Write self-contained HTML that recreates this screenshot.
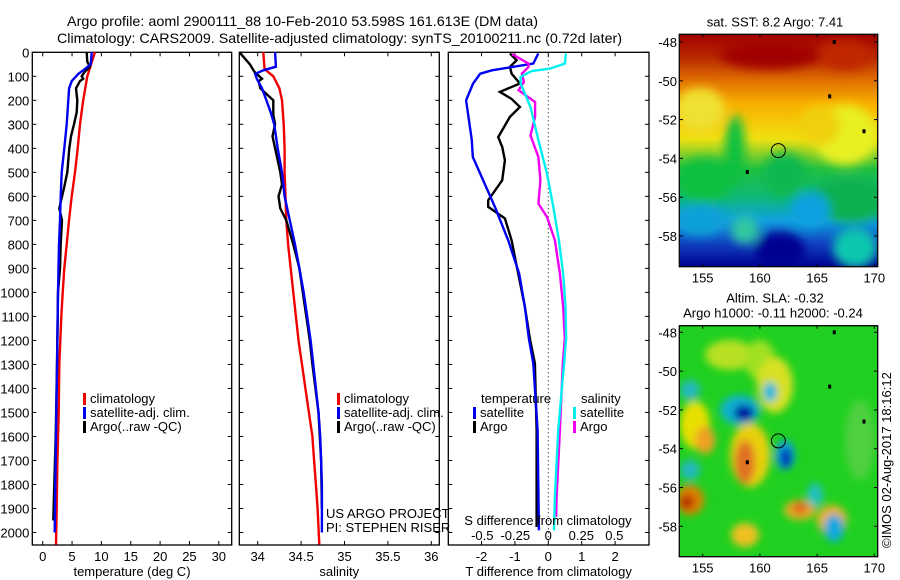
<!DOCTYPE html>
<html><head><meta charset="utf-8"><style>
html,body{margin:0;padding:0;background:#fff;}
svg{display:block;font-family:"Liberation Sans",sans-serif;}
</style></head><body>
<svg id="chart" width="900" height="580" viewBox="0 0 900 580" xmlns="http://www.w3.org/2000/svg">
<defs>
<filter id="blur1" x="-20%" y="-20%" width="140%" height="140%"><feGaussianBlur stdDeviation="5"/></filter>
<filter id="blur2" x="-20%" y="-20%" width="140%" height="140%"><feGaussianBlur stdDeviation="4"/></filter>
<linearGradient id="sstgrad" x1="0" y1="0" x2="0" y2="1">
<stop offset="0" stop-color="#a00000"/><stop offset="0.1" stop-color="#b82800"/><stop offset="0.2" stop-color="#e07000"/>
<stop offset="0.3" stop-color="#f8b000"/><stop offset="0.45" stop-color="#f0e010"/><stop offset="0.58" stop-color="#20c040"/>
<stop offset="0.7" stop-color="#10b878"/><stop offset="0.8" stop-color="#10a0e0"/><stop offset="0.9" stop-color="#1040c0"/><stop offset="1" stop-color="#000090"/>
</linearGradient>
<clipPath id="clipm1"><rect x="680" y="35" width="197" height="231"/></clipPath>
<clipPath id="clipm2"><rect x="680" y="326" width="197" height="230"/></clipPath>
</defs>
<text x="67" y="26" font-size="14" textLength="471" lengthAdjust="spacingAndGlyphs">Argo profile: aoml 2900111_88 10-Feb-2010 53.598S 161.613E (DM data)</text>
<text x="57" y="43" font-size="14" textLength="565" lengthAdjust="spacingAndGlyphs">Climatology: CARS2009. Satellite-adjusted climatology: synTS_20100211.nc (0.72d later)</text>
<g id="panels"></g>
<g id="maps"></g>
</svg>
<script>
// depth axis
const depthTicks = [0,100,200,300,400,500,600,700,800,900,1000,1100,1200,1300,1400,1500,1600,1700,1800,1900,2000];
// panel 1: temperature
const tempTicks = [0,5,10,15,20,25,30];
const climTempDepth = [0,100,200,300,400,500,600,700,800,900,1000,1100,1200,1300,1500,1700,1900,2050];
const climTemp = [8.9,7.6,6.9,6.35,5.96,5.5,4.94,4.48,4.09,3.68,3.4,3.17,3.0,2.83,2.73,2.5,2.38,2.27];
const satTempDepth = [0,50,75,90,120,150,200,300,400,500,600,700,800,1000,1200,1400,1600,1800,2000];
const satTemp = [8.35,8.2,6.9,6.07,4.94,4.5,4.36,4.09,3.68,3.23,3.07,2.95,2.78,2.6,2.5,2.38,2.27,2.15,2.04];
const argoTempDepth = [0,40,60,80,100,110,120,150,200,250,300,350,400,500,560,650,700,800,900,1000,1300,1600,1800,1950];
const argoTemp = [7.5,7.6,8.05,7.2,6.64,6.9,6.35,5.67,5.9,5.79,5.33,4.82,4.53,4.19,3.68,2.83,3.29,3.07,2.95,2.6,2.44,2.21,1.98,1.81];
// panel 2: salinity
const salTicks = [34,34.5,35,35.5,36];
const climSalDepth = [0,70,100,150,200,300,400,500,600,700,800,900,1000,1100,1200,1300,1400,1500,1600,1700,1800,1900,2050];
const climSal = [34.065,34.08,34.18,34.25,34.28,34.30,34.31,34.31,34.32,34.33,34.35,34.38,34.41,34.44,34.47,34.51,34.55,34.59,34.63,34.65,34.67,34.69,34.71];
const satSalDepth = [0,60,75,90,110,150,200,250,300,400,500,600,700,800,900,1000,1100,1200,1300,1400,1500,1600,1700,1800,2000];
const satSal = [34.2,34.21,34.065,33.97,33.99,34.05,34.10,34.15,34.19,34.23,34.28,34.31,34.37,34.43,34.48,34.53,34.57,34.61,34.64,34.67,34.70,34.72,34.73,34.74,34.74];
const argoSalDepth = [0,50,80,110,120,150,180,200,260,300,350,400,500,550,600,650,700,800,900,1000,1100,1200,1300,1500,1700,1900];
const argoSal = [33.79,33.91,33.96,34.05,34.01,34.03,34.12,34.18,34.18,34.2,34.17,34.2,34.26,34.28,34.24,34.26,34.33,34.41,34.48,34.52,34.56,34.60,34.63,34.70,34.73,34.74];
// panel 3: differences
const tDiffTicks = [-2,-1,0,1,2];
const sDiffTicks = [-0.5,-0.25,0,0.25,0.5];
const satTDiffDepth = [5,47,75,89,130,200,269,366,436,505,644,783,922,1061,1193,1296,1574,1991];
const satTDiff = [-0.30,-0.45,-1.69,-2.04,-2.25,-2.46,-2.39,-2.29,-2.26,-2.04,-1.6,-1.2,-0.87,-0.70,-0.58,-0.45,-0.32,-0.28];
const argoTDiffDepth = [5,33,61,89,130,165,194,228,269,353,394,450,533,616,644,692,783,922,1061,1193,1296,1574,1977];
const argoTDiff = [-1.15,-0.95,-1.15,-1.1,-0.85,-1.45,-1.1,-0.85,-1.15,-1.5,-1.38,-1.3,-1.38,-1.8,-1.8,-1.3,-1.1,-0.9,-0.7,-0.55,-0.4,-0.35,-0.35];
const argoSDiffDepth = [7,47,61,89,123,158,207,269,346,436,533,630,686,783,922,1061,1193,1296,1574,1852,1935];
const argoSDiff = [-0.275,-0.15,-0.15,-0.20,-0.185,-0.225,-0.10,-0.10,-0.135,-0.075,-0.06,-0.075,-0.01,0.05,0.088,0.113,0.125,0.11,0.088,0.063,0.06];
const satSDiffDepth = [5,47,68,78,103,130,228,366,505,644,783,922,1061,1193,1296,1574,1852,1991];
const satSDiff = [0.133,0.125,0.013,-0.125,-0.21,-0.21,-0.135,-0.075,-0.01,0.038,0.08,0.113,0.13,0.135,0.12,0.075,0.05,0.043];
// map axes
const lonTicks = [155,160,165,170];
const latTicks = [48,50,52,54,56,58];

const NS = "http://www.w3.org/2000/svg";
function mk(tag, attrs, parent){const e=document.createElementNS(NS,tag);for(const k in attrs)e.setAttribute(k,attrs[k]);parent.appendChild(e);return e;}
const panels = document.getElementById('panels');
const yTop=52.3, yPerM=0.2401, bottom=545;
const yD = d => yTop + d*yPerM;

function panel(name, x0, x1, xScale, ticks, fmt, title, showDepthLabels){
  const g = mk('g',{},panels);
  
  
  const r = mk('rect',{x:x0,y:yTop,width:x1-x0,height:bottom-yTop,fill:'none',stroke:'#000','stroke-width':1.3},g);
  
  
  depthTicks.forEach(d=>{
    const y=yD(d);
    mk('line',{x1:x0,x2:x0+4,y1:y,y2:y,stroke:'#000'},g);
    mk('line',{x1:x1-4,x2:x1,y1:y,y2:y,stroke:'#000'},g);
    if(showDepthLabels){
      const t=mk('text',{x:x0-3,y:y+5,'font-size':13,'text-anchor':'end'},g);
      t.textContent=d;
      
      
    }
  });
  ticks.forEach(v=>{
    const x=xScale(v);
    mk('line',{x1:x,x2:x,y1:yTop,y2:yTop+4,stroke:'#000'},g);
    mk('line',{x1:x,x2:x,y1:bottom-4,y2:bottom,stroke:'#000'},g);
    const t=mk('text',{x:x,y:561,'font-size':13,'text-anchor':'middle'},g);
    t.textContent=fmt(v);
    
    
  });
  const tt=mk('text',{x:(x0+x1)/2,y:576,'font-size':13,'text-anchor':'middle'},g);
  tt.textContent=title;
  
  
  return g;
}
function line(g, depths, vals, xScale, color, name, w){
  const pts = depths.map((d,i)=>xScale(vals[i]).toFixed(1)+','+yD(d).toFixed(1)).join(' ');
  const p = mk('polyline',{points:pts,fill:'none',stroke:color,'stroke-width':w||2.4,'stroke-linejoin':'miter'},g);
  
  
}
function legendEntry(g,x,y,color,label,name){
  const e=mk('g',{},g);
  
  
  mk('rect',{x:x,y:y-10,width:3,height:12,fill:color},e);
  const t=mk('text',{x:x+7,y:y,'font-size':13},e);
  t.textContent=label;
}
function text(g,x,y,s,name,anchor){
  const t=mk('text',{x:x,y:y,'font-size':13,'text-anchor':anchor||'start'},g);
  t.textContent=s;
  
  
  return t;
}

// panel 1
const xT = v => 42.7 + v*5.87;
const g1 = panel('temperature-panel',32.3,231.7,xT,tempTicks,v=>v,'temperature (deg C)',true);
line(g1,climTempDepth,climTemp,xT,'#f00000','climatology-temperature-line');
line(g1,argoTempDepth,argoTemp,xT,'#000','argo-temperature-line');
line(g1,satTempDepth,satTemp,xT,'#0000f0','satellite-temperature-line');
legendEntry(g1,83,403,'#f00000','climatology','legend-climatology');
legendEntry(g1,83,417,'#0000f0','satellite-adj. clim.','legend-satellite-adj');
legendEntry(g1,83,431,'#000','Argo(..raw -QC)','legend-argo');

// panel 2
const xS = v => 257.7 + (v-34)*86.8;
const g2 = panel('salinity-panel',239.3,439.3,xS,salTicks,v=>v,'salinity',false);
line(g2,climSalDepth,climSal,xS,'#f00000','climatology-salinity-line');
line(g2,argoSalDepth,argoSal,xS,'#000','argo-salinity-line');
line(g2,satSalDepth,satSal,xS,'#0000f0','satellite-salinity-line');
legendEntry(g2,337,403,'#f00000','climatology','legend-climatology-sal');
legendEntry(g2,337,417,'#0000f0','satellite-adj. clim.','legend-satellite-adj-sal');
legendEntry(g2,337,431,'#000','Argo(..raw -QC)','legend-argo-sal');
text(g2,326,518,'US ARGO PROJECT','project-label');
text(g2,326,532,'PI: STEPHEN RISER','pi-label');

// panel 3
const xDT = v => 548.3 + v*33.4;
const xDS = v => 548.3 + v*132;
const g3 = panel('difference-panel',448.3,649,xDT,tDiffTicks,v=>v,'T difference from climatology',false);
const dz = mk('line',{x1:548.3,x2:548.3,y1:yTop,y2:bottom,stroke:'#000','stroke-dasharray':'1,3'},g3);


line(g3,argoTDiffDepth,argoTDiff,xDT,'#000','argo-t-diff-line');
line(g3,satTDiffDepth,satTDiff,xDT,'#0000f0','satellite-t-diff-line');
line(g3,argoSDiffDepth,argoSDiff,xDS,'#f000f0','argo-s-diff-line');
line(g3,satSDiffDepth,satSDiff,xDS,'#00f0f0','satellite-s-diff-line');
text(g3,481,403,'temperature','legend-temperature-heading');
legendEntry(g3,473,417,'#0000f0','satellite','legend-t-satellite');
legendEntry(g3,473,431,'#000','Argo','legend-t-argo');
text(g3,581,403,'salinity','legend-salinity-heading');
legendEntry(g3,573,417,'#00f0f0','satellite','legend-s-satellite');
legendEntry(g3,573,431,'#f000f0','Argo','legend-s-argo');
text(g3,548,525,'S difference from climatology','s-axis-title','middle');
sDiffTicks.forEach(v=>{text(g3,xDS(v),540,String(v),'s-tick-label','middle');});

// maps
const maps = document.getElementById('maps');
const xLon = lon => 702.7 + (lon-155)*11.44;
function mapFrame(name, top, y48, titleLines){
  const g = mk('g',{},maps);
  
  
  const yLat = lat => y48 + (lat-48)*19.4;
  return {g, yLat, top, finish(){
    const h = (name==='sst-map'?232.4:231);
    const f=mk('rect',{x:679.3,y:top,width:198.4,height:h,fill:'none',stroke:'#000','stroke-width':1.3},g);
    
    
    const bot = top + h;
    latTicks.forEach(l=>{
      const y=yLat(l);
      mk('line',{x1:679.3,x2:683,y1:y,y2:y,stroke:'#000'},g);
      mk('line',{x1:874,x2:877.7,y1:y,y2:y,stroke:'#000'},g);
      text(g,677,y+5,'-'+l,'lat-tick-label','end');
    });
    lonTicks.forEach(l=>{
      const x=xLon(l);
      mk('line',{x1:x,x2:x,y1:top,y2:top+3,stroke:'#000'},g);
      mk('line',{x1:x,x2:x,y1:bot-3,y2:bot,stroke:'#000'},g);
      text(g,x,bot+16,l,'lon-tick-label','middle');
    });
    titleLines.forEach((s,i)=>text(g,[775,773][i],top-[ [8],[23,8] ][titleLines.length-1][i],s,'map-title','middle'));
    const c=mk('circle',{cx:xLon(161.613),cy:yLat(53.598),r:7,fill:'none',stroke:'#000','stroke-width':1},g);
    
    
    [[166.1,50.8],[169.1,52.6],[158.9,54.7],[166.5,48]].forEach(p=>{
      mk('rect',{x:xLon(p[0])-1.5,y:yLat(p[1])-2,width:3,height:4,fill:'#000'},g);
    });
  }};
}
// SST map
const m1 = mapFrame('sst-map',34.3,42,['sat. SST: 8.2 Argo: 7.41']);
{
  const c=mk('g',{'clip-path':'url(#clipm1)'},m1.g);
  mk('rect',{x:679,y:34,width:199,height:233,fill:'url(#sstgrad)'},c);
  const b=mk('g',{filter:'url(#blur1)'},c);
  const blobs=[[700,110,25,22,'#f0e030'],[735,150,10,35,'#10c040'],[705,180,28,22,'#10c040'],[785,175,22,22,'#10b850'],[850,200,40,22,'#10b050'],[745,230,14,14,'#30c8a0'],[700,220,25,16,'#10a0d8'],[810,210,20,18,'#10a0e0'],[780,250,25,18,'#000090'],[855,248,22,20,'#10c8b0'],[845,135,32,30,'#e8f020'],[820,125,20,20,'#f0d010'],[845,55,25,15,'#c02800'],[770,55,50,14,'#a00000']];
  blobs.forEach(s=>mk('ellipse',{cx:s[0],cy:s[1],rx:s[2],ry:s[3],fill:s[4]},b));
}
m1.finish();
// SLA map
const m2 = mapFrame('sla-map',325.7,332.3,['Altim. SLA: -0.32','Argo h1000: -0.11 h2000: -0.24']);
{
  const c=mk('g',{'clip-path':'url(#clipm2)'},m2.g);
  mk('rect',{x:679,y:325,width:199,height:232,fill:'#20d020'},c);
  const b=mk('g',{filter:'url(#blur2)'},c);
  const blobs=[[730,355,25,15,'#b8e020'],[760,360,15,20,'#a0e020'],[740,410,20,15,'#10b0d0'],[744,413,10,8,'#0000a0'],[695,425,15,24,'#e8e000'],[705,440,10,14,'#f0a020'],[750,455,20,32,'#e8d010'],[745,462,10,22,'#e07020'],[775,385,18,28,'#d8e020'],[770,392,7,10,'#10b8e0'],[785,455,10,15,'#10a0e0'],[786,458,5,10,'#0000b0'],[800,510,16,10,'#e8b020'],[800,508,8,6,'#e06020'],[690,500,14,15,'#e08000'],[687,502,7,7,'#b02000'],[690,470,10,10,'#20b8c0'],[745,535,14,12,'#f0c020'],[832,520,15,15,'#f0b020'],[834,528,10,14,'#10a8e0'],[815,495,8,12,'#20c0c0'],[690,390,10,10,'#20b8c0'],[860,440,15,40,'#50d040']];
  blobs.forEach(s=>mk('ellipse',{cx:s[0],cy:s[1],rx:s[2],ry:s[3],fill:s[4]},b));
}
m2.finish();
const cr=mk('text',{x:0,y:0,'font-size':13,transform:'translate(891,548) rotate(-90)'},maps);
cr.textContent='\u00A9IMOS 02-Aug-2017 18:16:12';


</script>
</body></html>
